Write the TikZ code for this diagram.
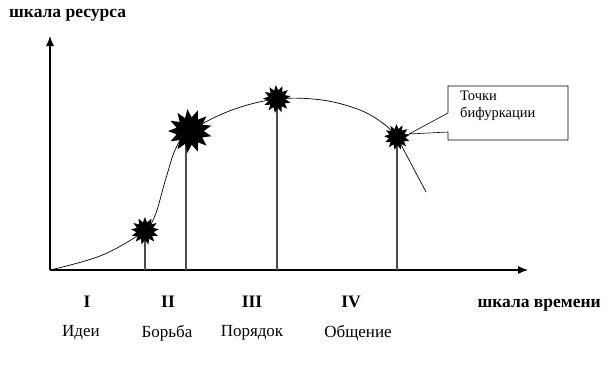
\documentclass[tikz,border=0pt]{standalone}
\usepackage{fontspec}
\setmainfont{Liberation Serif}
\usetikzlibrary{shapes.geometric,arrows.meta}
\begin{document}
\begin{tikzpicture}[x=1pt,y=-1pt,
  axis/.style={line width=1.1pt,-{Latex[length=10pt,width=8pt]}},
  drop/.style={line width=1.3pt,draw=black!70},
  curve/.style={line width=0.7pt},
  burst/.style={star,star points=13,star point ratio=1.6,fill=black,draw=none,inner sep=0pt},
  lbl/.style={font=\fontsize{17}{20}\selectfont,inner sep=0pt},
  blbl/.style={font=\fontsize{17.5}{20}\selectfont\bfseries,inner sep=0pt}]
\useasboundingbox (0,0) rectangle (609,365);
% axes
\coordinate (O) at (50,270);
\coordinate (Ytop) at (50,36);
\coordinate (Xend) at (528,270);
\draw[axis] (O) -- (Ytop);
\draw[axis] (O) -- (Xend);
% feet
\coordinate (f1) at (145,270);
\coordinate (f2) at (186,270);
\coordinate (f3) at (277,270);
\coordinate (f4) at (397,270);
% bursts (placed first as nodes, painted later)
\path node[burst,minimum size=28pt,opacity=0] (s1) at (145,231) {}
      node[burst,minimum size=44pt,rotate=7,opacity=0] (s2) at (190,131) {}
      node[burst,minimum size=28pt,rotate=5,opacity=0] (s3) at (277,99) {}
      node[burst,minimum size=26pt,rotate=3,opacity=0] (s4) at (397,137) {};
% drops
\draw[drop] (f1) -- (s1.center);
\draw[drop] (f2) -- (186,136);
\draw[drop] (f3) -- (s3.center);
\draw[drop] (f4) -- (s4.center);
% curve
\draw[curve] plot[smooth,tension=0.6] coordinates {(50,270) (100,256) (140,234) (154,218) (166,178) (176,148) (190,131) (232,110) (277,99) (322,100) (360,110) (384,124) (397,137)};
\coordinate (tail) at (426,192);
\draw[curve] (s4.center) -- (tail);
% bursts painted
\node[burst,minimum size=28pt] at (s1) {};
\node[burst,minimum size=44pt,rotate=7] at (s2) {};
\node[burst,minimum size=28pt,rotate=5] at (s3) {};
\node[burst,minimum size=26pt,rotate=3] at (s4) {};
% callout
\coordinate (b1) at (448,113);
\coordinate (b2) at (448,132);
\coordinate (tip) at (409,134);
\draw[line width=0.6pt] (b1) -- (448,86) -- (568,86) -- (568,140) -- (448,140) -- (b2) -- (tip) -- cycle;
\fill[white] (447.6,113.4) rectangle (448.4,131.6);
\node[lbl,anchor=north west,align=left,font=\fontsize{14.5}{17}\selectfont] (callout) at (460,91) {Точки\\бифуркации};
% labels
\node[blbl,anchor=west] (ylab) at (9,15) {шкала ресурса};
\node[blbl,anchor=east] (xlab) at (601,305) {шкала времени};
\node[blbl] (r1) at (87,302) {I};
\node[blbl] (r2) at (168,302) {II};
\node[blbl] (r3) at (252,302) {III};
\node[blbl] (r4) at (351,302) {IV};
\node[lbl] (n1) at (81,333) {Идеи};
\node[lbl] (n2) at (167,333) {Борьба};
\node[lbl] (n3) at (252,333) {Порядок};
\node[lbl] (n4) at (358,333) {Общение};
\end{tikzpicture}
\end{document}
